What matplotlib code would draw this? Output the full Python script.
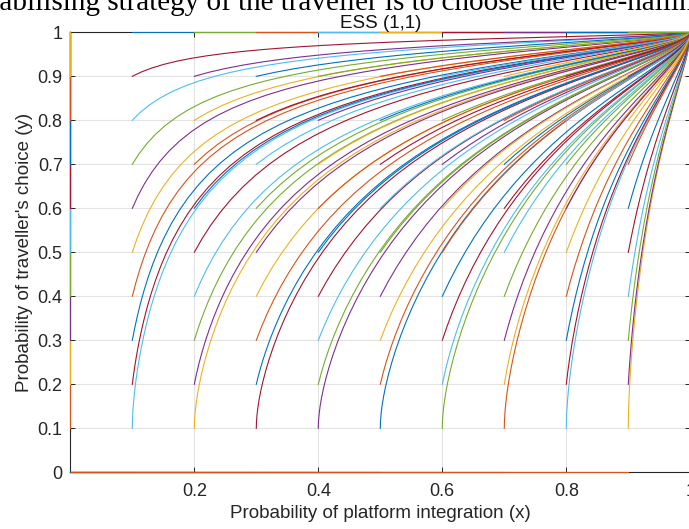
import numpy as np
import matplotlib.pyplot as plt

# starting points of the simulated trajectories (grid)
x_starts = [0.0, 0.1, 0.2, 0.3, 0.4, 0.5, 0.6, 0.7, 0.8, 0.9, 1.0]
y_starts = [0.0, 0.1, 0.2, 0.3, 0.4, 0.5, 0.6, 0.7, 0.8, 0.9, 1.0]

# replicator dynamics, coefficients estimated from the shape of the curves
#   dx/dt = x(1-x)(y - y_star)(1 + kx*x)
#   dy/dt = y(1-y)(c0 + cx*x + cy*y + cxy*x*y)
y_star, kx = 0.1, -0.4
c0, cx, cy, cxy = 0.6, 0.5, 0.0, -0.8
t_end = 100.0
dt = 0.02
save_every = 10

x_ticks = [0.2, 0.4, 0.6, 0.8, 1.0]
x_ticklabels = ['0.2', '0.4', '0.6', '0.8', '1']
y_ticks = [0.0, 0.1, 0.2, 0.3, 0.4, 0.5, 0.6, 0.7, 0.8, 0.9, 1.0]
y_ticklabels = ['0', '0.1', '0.2', '0.3', '0.4', '0.5', '0.6', '0.7', '0.8', '0.9', '1']

matlab_colors = ['#0072BD', '#D95319', '#EDB120', '#7E2F8E',
                 '#77AC30', '#4DBEEE', '#A2142F']


def rhs(x, y):
    dx = x * (1 - x) * (y - y_star) * (1 + kx * x)
    dy = y * (1 - y) * (c0 + cx * x + cy * y + cxy * x * y)
    return dx, dy


# outer loop over x0, inner over y0 (same order as the colour cycle)
X0, Y0 = np.meshgrid(x_starts, y_starts, indexing='ij')
x = X0.ravel().astype(float)
y = Y0.ravel().astype(float)
xs, ys = [x.copy()], [y.copy()]
for step in range(1, int(t_end / dt) + 1):
    k1 = rhs(x, y)
    k2 = rhs(x + dt / 2 * k1[0], y + dt / 2 * k1[1])
    k3 = rhs(x + dt / 2 * k2[0], y + dt / 2 * k2[1])
    k4 = rhs(x + dt * k3[0], y + dt * k3[1])
    x = x + dt / 6 * (k1[0] + 2 * k2[0] + 2 * k3[0] + k4[0])
    y = y + dt / 6 * (k1[1] + 2 * k2[1] + 2 * k3[1] + k4[1])
    if step % save_every == 0:
        xs.append(x.copy())
        ys.append(y.copy())
xs = np.array(xs)
ys = np.array(ys)

plt.rcParams['font.family'] = ['Liberation Sans', 'DejaVu Sans']
fig = plt.figure(figsize=(6.89, 5.29), dpi=100)
ax = fig.add_axes([70.3 / 689, (529 - 472.3) / 529, 620 / 689, 440 / 529])
ax.set_prop_cycle(color=matlab_colors)

for i in range(xs.shape[1]):
    ax.plot(xs[:, i], ys[:, i], lw=0.8, zorder=3, clip_on=False)

ax.set_xlim(0, 1)
ax.set_ylim(0, 1)
ax.set_xticks(x_ticks)
ax.set_xticklabels(x_ticklabels)
ax.set_yticks(y_ticks)
ax.set_yticklabels(y_ticklabels)
ax.grid(True, color='#e3e3e3', lw=0.8, zorder=0)
ax.set_axisbelow(True)
ax.tick_params(direction='in', length=3.6, width=0.7, colors='#262626',
               labelsize=13, top=True, right=True)
ax.tick_params(axis='x', pad=7.5)
ax.tick_params(axis='y', pad=5.5)
for sp in ax.spines.values():
    sp.set_color('#262626')
    sp.set_linewidth(0.8)
    sp.set_zorder(2.5)

ax.set_xlabel('Probability of platform integration (x)', fontsize=13.5,
              color='#262626', labelpad=4)
ax.set_ylabel("Probability of traveller's choice (y)", fontsize=13.5,
              color='#262626', labelpad=3.5)
ax.set_title('ESS (1,1)', fontsize=13.5, color='#111111', pad=3.3)

# caption text from the page above the figure, cut off at the top edge
fig.text(-20 / 689, (529 - 10) / 529,
         'stabilising strategy of the traveller is to choose the ride-hailing',
         family='Liberation Serif', fontsize=21, va='baseline', ha='left')

fig.savefig('out.png', dpi=100)
